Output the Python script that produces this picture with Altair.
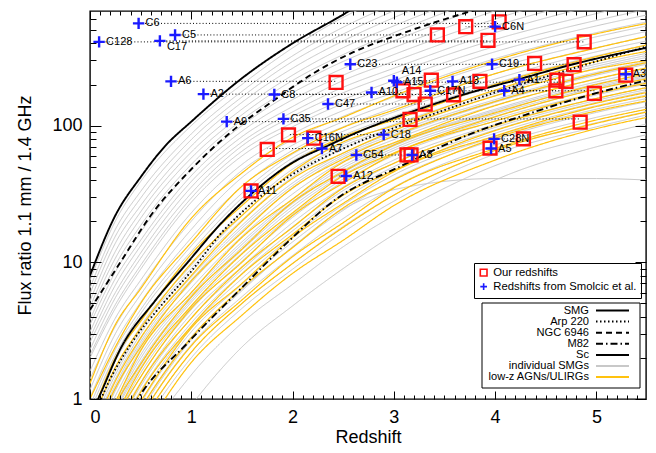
import altair as alt
import pandas as pd

FONT = "Liberation Sans"

# ------------------------------------------------------------------ data
Z_GRID = [0.0, 0.25, 0.5, 1.0, 1.5, 2.0, 2.5, 3.0, 4.0, 5.0, 5.5]

# individual SMG tracks (flux ratio at Z_GRID)
GRAY_CURVES = [
    [7.4, 20, 39, 100, 200, 370, 620, 910, 1820, 3160, 4070],
    [6.5, 17.4, 33, 87, 178, 324, 525, 776, 1550, 2630, 3310],
    [5.9, 15.5, 29.5, 79, 162, 295, 468, 692, 1350, 2300, 2900],
    [5.2, 13.8, 26, 71, 148, 263, 417, 617, 1175, 2000, 2510],
    [4.7, 12, 23.4, 64, 132, 234, 372, 537, 1020, 1700, 2140],
    [4.3, 10.7, 21, 58, 120, 214, 331, 479, 912, 1510, 1860],
    [3.8, 9.5, 18.6, 52, 110, 191, 295, 417, 794, 1290, 1620],
    [3.5, 8.5, 16.6, 48, 100, 174, 263, 372, 692, 1120, 1410],
    [3.1, 7.6, 14.5, 43, 91, 155, 234, 331, 603, 977, 1200],
    [2.8, 6.8, 13.2, 39, 83, 138, 214, 295, 537, 851, 1047],
    [2.6, 6.0, 11.7, 35.5, 76, 126, 191, 263, 479, 759, 912],
    [2.3, 5.5, 10.7, 32, 71, 117, 174, 240, 427, 661, 813],
    [2.1, 4.9, 9.5, 29.5, 65, 105, 155, 214, 380, 589, 708],
    [2.0, 4.6, 8.9, 27.5, 60, 98, 145, 195, 347, 537, 646],
    [1.6, 3.9, 7.4, 23, 52, 87, 129, 174, 309, 479, 575],
    [1.4, 3.4, 6.6, 20, 47, 79, 117, 162, 288, 447, 537],
    [1.17, 3.0, 5.8, 17.4, 41.7, 72, 107, 148, 263, 407, 490],
    [1.02, 2.6, 5.1, 15.1, 36, 66, 98, 135, 240, 372, 447],
    [0.89, 2.3, 4.5, 13.2, 32, 62, 91, 126, 219, 347, 417],
    [0.81, 2.1, 4.2, 12, 29.5, 58, 85, 117, 204, 324, 389],
    [0.74, 1.9, 3.8, 11, 27, 55, 81, 112, 195, 309, 372],
    [0.65, 1.6, 3.4, 9.5, 23.4, 48, 74, 102, 178, 282, 339],
    [0.6, 1.5, 3.2, 9.0, 21.9, 45, 71, 97, 172, 272, 327],
    [0.55, 1.4, 3.0, 8.5, 20.4, 42, 68, 93, 166, 263, 316],
    [0.5, 1.26, 2.75, 7.8, 18.6, 38, 63, 89, 155, 245, 295],
    [0.48, 1.2, 2.62, 7.45, 17.8, 36.3, 61, 86, 151, 239, 288],
    [0.46, 1.15, 2.5, 7.1, 17, 34.7, 59, 83, 148, 234, 282],
    [0.42, 1.05, 2.3, 6.5, 15.5, 31.6, 55, 79, 141, 219, 263],
    [0.37, 0.95, 2.1, 6.0, 14.1, 28.8, 51, 74, 132, 209, 251],
    [0.355, 0.91, 1.98, 5.75, 13.5, 27.8, 49, 72.5, 129, 202, 242],
    [0.34, 0.87, 1.86, 5.5, 12.9, 26.9, 47, 71, 126, 195, 234],
    [0.32, 0.83, 1.78, 5.3, 12.3, 25.7, 45.3, 68.5, 121, 190, 229],
    [0.3, 0.8, 1.7, 5.1, 11.7, 24.5, 43.7, 66, 117, 186, 224],
    [0.28, 0.72, 1.55, 4.7, 10.7, 22.4, 40.7, 63, 112, 174, 209],
    [0.26, 0.68, 1.45, 4.5, 10.2, 21.3, 39, 60.5, 108, 168, 202],
    [0.23, 0.62, 1.32, 4.2, 9.3, 19.5, 35.5, 56, 102, 158, 191],
    [0.22, 0.58, 1.24, 3.9, 8.8, 18.2, 33.5, 53, 97, 153, 184],
    [0.2, 0.54, 1.15, 3.6, 8.3, 17, 31.6, 50, 93, 148, 178],
    [0.185, 0.49, 1.04, 3.35, 7.6, 15.5, 29, 47, 88, 140, 168],
    [0.17, 0.44, 0.93, 3.1, 6.9, 14.1, 26.3, 43.6, 83, 132, 158],
    [0.155, 0.4, 0.85, 2.85, 6.35, 12.9, 24, 40.5, 79, 125, 150],
    [0.13, 0.34, 0.74, 2.5, 5.6, 11.2, 20.9, 35.5, 72, 115, 138],
    [0.11, 0.3, 0.65, 2.2, 5.0, 9.8, 18.3, 31, 66, 105, 127],
    [0.1, 0.27, 0.59, 2.0, 4.6, 8.9, 16.6, 28, 62, 98, 120],
    [0.08, 0.2, 0.45, 1.5, 3.6, 6.9, 13, 22, 51, 84, 103],
    [0.05, 0.12, 0.27, 0.9, 2.4, 4.8, 9.0, 16, 40, 70, 86],
    [0.14, 0.36, 0.8, 2.7, 6.2, 13, 24.5, 34, 41, 41, 40],
]

# low-z AGN / ULIRG tracks (flux ratio at Z_GRID)
YELLOW_CURVES = [
    [1.3, 3.5, 6.4, 21, 45, 82, 115, 165, 300, 470, 560],
    [1.0, 2.4, 5.0, 14, 36, 63, 97, 130, 240, 370, 450],
    [0.7, 2.0, 3.7, 11.5, 26, 53, 83, 110, 200, 320, 390],
    [0.62, 1.7, 3.3, 9.8, 22, 46, 76, 100, 182, 295, 350],
    [0.5, 1.35, 2.8, 8.0, 20, 41, 63, 92, 165, 260, 300],
    [0.46, 1.2, 2.4, 7.3, 16.5, 35, 57, 84, 150, 240, 290],
    [0.4, 0.95, 2.25, 6.0, 15.2, 29, 54, 75, 140, 220, 265],
    [0.33, 0.9, 1.8, 5.6, 12.5, 27.5, 46, 72, 124, 200, 240],
    [0.3, 0.74, 1.65, 4.8, 11.5, 23, 43, 63, 116, 185, 220],
    [0.26, 0.7, 1.45, 4.6, 10, 22, 38, 62, 108, 172, 205],
    [0.22, 0.58, 1.3, 3.9, 9.2, 18, 35, 53, 100, 158, 190],
    [0.2, 0.5, 1.12, 3.4, 8.2, 16, 31, 47, 92, 146, 175],
    [0.18, 0.48, 0.96, 3.3, 7.0, 15.2, 27, 46, 84, 138, 165],
    [0.15, 0.41, 0.85, 2.8, 6.5, 12.8, 25, 40, 81, 128, 152],
    [0.13, 0.33, 0.73, 2.45, 5.3, 11, 19.5, 35, 68, 110, 132],
    [0.11, 0.3, 0.65, 2.2, 5.0, 9.8, 18, 31, 66, 104, 126],
    [0.09, 0.25, 0.52, 1.85, 4.1, 8.3, 14.5, 26, 56, 95, 115],
]

# template tracks
SMG_Z = [0.0, 0.08, 0.31, 0.64, 0.97, 1.3, 1.6, 1.97, 2.36, 2.62, 2.89, 3.35, 3.61, 4.2, 4.8, 5.5]
SMG_Y = [0.75, 1.0, 2.4, 5.2, 10.1, 19.5, 32, 52, 72, 88, 106, 140, 162, 215, 285, 372]
ARP_Z = [0.0, 0.11, 0.4, 0.7, 1.0, 1.3, 1.6, 2.0, 2.5, 3.0, 3.5, 4.0, 4.5, 5.0, 5.5]
ARP_Y = [0.6, 1.0, 2.5, 4.8, 8.6, 16.5, 27, 44, 68, 96, 130, 175, 228, 295, 380]
NGC_Z = [0.0, 0.3, 0.6, 1.0, 1.37, 1.8, 2.2, 2.6, 3.0, 3.5, 3.8]
NGC_Y = [4.5, 10, 22, 48, 87, 150, 240, 345, 450, 600, 700]
M82_Z = [0.3, 0.47, 0.97, 1.46, 1.95, 2.43, 3.08, 3.74, 4.3, 4.9, 5.5]
M82_Y = [0.6, 1.0, 2.6, 6.1, 14, 29, 51, 86, 120, 165, 215]
SC_Z = [0.0, 0.25, 0.5, 0.75, 1.0, 1.5, 2.0, 2.5, 2.7]
SC_Y = [8.0, 22, 42, 72, 107, 222, 400, 650, 800]

SERIES = ["SMG", "Arp 220", "NGC 6946", "M82", "Sc",
          "individual SMGs", "low-z AGNs/ULIRGs"]
SERIES_COLORS = ["black", "black", "black", "black", "black", "#c8c8c8", "#ffc20e"]
SERIES_DASH = [[1, 0], [1.5, 2.5], [6, 4], [7, 3, 1.5, 3], [1, 0], [1, 0], [1, 0]]

# sources
SOURCE_NAMES = ["C6", "C128", "C17", "C5", "A6", "A2", "C8", "A9", "C35", "C47",
                "C16N", "A7", "A11", "A12", "C23", "C54", "C18", "A8", "C28N", "A5",
                "C6N", "C19", "A14", "A15", "A10", "C17N", "A13", "A1", "A4", "A3"]
SMOLCIC_Z = [0.48, 0.09, 0.69, 0.84, 0.80, 1.12, 1.82, 1.35, 1.91, 2.35,
             2.15, 2.29, 1.59, 2.53, 2.57, 2.63, 2.90, 3.18, 3.99, 3.96,
             4.00, 3.97, 3.00, 3.03, 2.78, 3.36, 3.58, 4.24, 4.09, 5.29]
SMOLCIC_Y = [560, 410, 417, 461, 211, 170, 169, 107, 112, 144,
             81, 68, 33.3, 42.8, 281, 61, 86, 61, 80, 68,
             530, 281, 213, 208, 175, 180, 211, 217, 180, 238]
OURS_Z = [4.04, 4.88, 3.93, 3.43, 2.43, 3.20, 3.59, 3.16, 4.84, 3.31,
          2.21, 1.75, 1.59, 2.45, 4.39, 3.13, 1.96, 3.17, 4.28, 3.95,
          3.71, 4.78, 3.37, 4.70, 3.09, 4.98, 3.85, 4.61, 4.60, 5.29]
OURS_Y = [575, 410, 421, 461, 207, 169, 168, 111, 106, 144,
          81, 67, 33.3, 42.6, 285, 61, 85.5, 61, 80, 68.5,
          530, 279, 215, 211, 180, 172, 211, 215, 180, 234]

KINDS = ["Our redshifts", "Redshifts from Smolcic et al."]

X_MAJOR = [0, 1, 2, 3, 4, 5]
X_MINOR = [i / 10 for i in range(1, 55) if i % 10]
Y_MAJOR = [1, 10, 100]
Y_MINOR = [2, 3, 4, 5, 6, 7, 8, 9, 20, 30, 40, 50, 60, 70, 80, 90, 200, 300, 400, 500, 600]

# ------------------------------------------------------------------ tables
W, H = 556, 388

rows = []
for i, ys in enumerate(GRAY_CURVES):
    for z, y in zip(Z_GRID, ys):
        rows.append({"curve": f"g{i}", "series": "individual SMGs", "z": z, "y": y})
gray_df = pd.DataFrame(rows)

rows = []
for i, ys in enumerate(YELLOW_CURVES):
    for z, y in zip(Z_GRID, ys):
        rows.append({"curve": f"y{i}", "series": "low-z AGNs/ULIRGs", "z": z, "y": y})
yellow_df = pd.DataFrame(rows)

rows = []
for name, zs, ys in [("Sc", SC_Z, SC_Y), ("NGC 6946", NGC_Z, NGC_Y), ("M82", M82_Z, M82_Y),
                     ("Arp 220", ARP_Z, ARP_Y), ("SMG", SMG_Z, SMG_Y)]:
    for z, y in zip(zs, ys):
        rows.append({"curve": name, "series": name, "z": z, "y": y})
tmpl_df = pd.DataFrame(rows)

smolcic_df = pd.DataFrame({"name": SOURCE_NAMES, "z": SMOLCIC_Z, "y": SMOLCIC_Y,
                           "kind": KINDS[1]})
ours_df = pd.DataFrame({"name": SOURCE_NAMES, "z": OURS_Z, "y": OURS_Y, "kind": KINDS[0]})
link_df = pd.DataFrame({"z1": SMOLCIC_Z, "z2": OURS_Z, "y": SMOLCIC_Y})
key_df = pd.DataFrame({"label": SERIES, "row": list(range(len(SERIES)))})

# ------------------------------------------------------------------ scales / axes
xs = alt.Scale(domain=[0, 5.49], nice=False, zero=False)
ys = alt.Scale(type="log", domain=[1, 690], nice=False)


def tick_axis(orient, offset, values, size):
    return alt.Axis(orient=orient, offset=offset, values=values, tickSize=size,
                    labels=False, domain=False, grid=False, title=None,
                    tickColor="black", tickWidth=1, zindex=2)


x_main = alt.Axis(orient="bottom", values=X_MAJOR, format="d", ticks=False, domain=False,
                  grid=False, labelFont=FONT, labelFontSize=18, labelColor="black",
                  labelPadding=9, title="Redshift", titleFont=FONT, titleFontSize=18,
                  titleFontWeight="normal", titleColor="black", titlePadding=2)
y_main = alt.Axis(orient="left", values=Y_MAJOR, format="d", ticks=False, domain=False,
                  grid=False, labelFont=FONT, labelFontSize=18, labelColor="black",
                  labelPadding=8, title="Flux ratio 1.1 mm / 1.4 GHz", titleFont=FONT,
                  titleFontSize=18, titleFontWeight="normal", titleColor="black",
                  titlePadding=17)

pt_legend = alt.Legend(title=None, orient="none", legendX=384, legendY=252,
                       symbolSize=45, symbolStrokeWidth=1.6, padding=4, rowPadding=0,
                       labelOffset=4, strokeColor="black", fillColor="white",
                       labelFont=FONT, labelFontSize=11.3, labelColor="black",
                       labelLimit=300)

color_scale = alt.Scale(domain=SERIES, range=SERIES_COLORS)
dash_scale = alt.Scale(domain=SERIES, range=SERIES_DASH)
PLUS = "M-1,0L1,0M0,-1L0,1"
stroke_scale = alt.Scale(domain=KINDS, range=["#ff1010", "#1a1aff"])
shape_scale = alt.Scale(domain=KINDS, range=["square", PLUS])


def line_layer(df, width, xaxis, yaxis):
    return alt.Chart(df).mark_line(interpolate="monotone", clip=True,
                                   strokeWidth=width).encode(
        x=alt.X("z:Q", scale=xs, axis=xaxis),
        y=alt.Y("y:Q", scale=ys, axis=yaxis),
        detail="curve:N",
        color=alt.Color("series:N", scale=color_scale, legend=None),
        strokeDash=alt.StrokeDash("series:N", scale=dash_scale, legend=None),
    )


gray = line_layer(gray_df, 1.0, x_main, y_main)
yellow = line_layer(yellow_df, 1.2,
                    tick_axis("top", -H, X_MAJOR, 8),
                    tick_axis("right", -W, Y_MAJOR, 11))
tmpl = line_layer(tmpl_df, 1.9,
                  tick_axis("top", -H, X_MINOR, 4),
                  tick_axis("right", -W, Y_MINOR, 6))

links = alt.Chart(link_df).mark_rule(color="black", strokeWidth=1,
                                     strokeDash=[1, 2.2]).encode(
    x=alt.X("z1:Q", scale=xs, axis=tick_axis("bottom", -H, X_MAJOR, 8)),
    x2="z2:Q",
    y=alt.Y("y:Q", scale=ys, axis=tick_axis("left", -W, Y_MAJOR, 11)),
)

squares = alt.Chart(ours_df).mark_point(filled=False, size=165, strokeWidth=2.4,
                                        opacity=1, clip=True).encode(
    x=alt.X("z:Q", scale=xs, axis=tick_axis("bottom", -H, X_MINOR, 4)),
    y=alt.Y("y:Q", scale=ys, axis=tick_axis("left", -W, Y_MINOR, 6)),
    stroke=alt.Stroke("kind:N", scale=stroke_scale, legend=pt_legend),
    shape=alt.Shape("kind:N", scale=shape_scale, legend=pt_legend),
)

pluses = alt.Chart(smolcic_df).mark_point(filled=False, size=130, strokeWidth=2.4,
                                          opacity=1, clip=True).encode(
    x=alt.X("z:Q", scale=xs, axis=None),
    y=alt.Y("y:Q", scale=ys, axis=None),
    stroke=alt.Stroke("kind:N", scale=stroke_scale, legend=pt_legend),
    shape=alt.Shape("kind:N", scale=shape_scale, legend=pt_legend),
)


def label_layer(flt, dx, dy):
    return alt.Chart(smolcic_df).transform_filter(flt).mark_text(
        align="left", baseline="middle", dx=dx, dy=dy, font=FONT, fontSize=11,
        color="black").encode(
        x=alt.X("z:Q", scale=xs, axis=None),
        y=alt.Y("y:Q", scale=ys, axis=None),
        text="name:N",
    )


labels = label_layer("datum.name != 'C17' && datum.name != 'A14'", 7, 0)
label_c17 = label_layer("datum.name == 'C17'", 7, 6)
label_a14 = label_layer("datum.name == 'A14'", 8, -10)

# key for the line styles (box, labels right-aligned, samples on the right)
key_box = alt.Chart(pd.DataFrame({"k": [0]})).mark_rect(
    fill="white", stroke="black", strokeWidth=1).encode(
    x=alt.value(392), x2=alt.value(550), y=alt.value(292), y2=alt.value(377))
key_text = alt.Chart(key_df).transform_calculate(py="299.5 + 11.1 * datum.row").mark_text(
    align="right", baseline="middle", font=FONT, fontSize=11.1, color="black").encode(
    x=alt.value(499), y=alt.Y("py:Q", scale=None, axis=None), text="label:N")
key_lines = alt.Chart(key_df).transform_calculate(py="299.5 + 11.1 * datum.row").mark_rule(
    strokeWidth=2).encode(
    x=alt.value(506), x2=alt.value(539), y=alt.Y("py:Q", scale=None, axis=None),
    color=alt.Color("label:N", scale=color_scale, legend=None),
    strokeDash=alt.StrokeDash("label:N", scale=dash_scale, legend=None))

chart = alt.layer(
    gray, yellow, tmpl, links, squares, pluses, labels, label_c17, label_a14,
    key_box, key_text, key_lines
).resolve_axis(
    x="independent", y="independent"
).properties(
    width=W, height=H,
    padding={"left": 8, "top": 2, "right": 0, "bottom": 0},
).configure_view(
    stroke="black", strokeWidth=1.4
)

chart.save("out.html", embed_options={"renderer": "svg", "actions": False})
